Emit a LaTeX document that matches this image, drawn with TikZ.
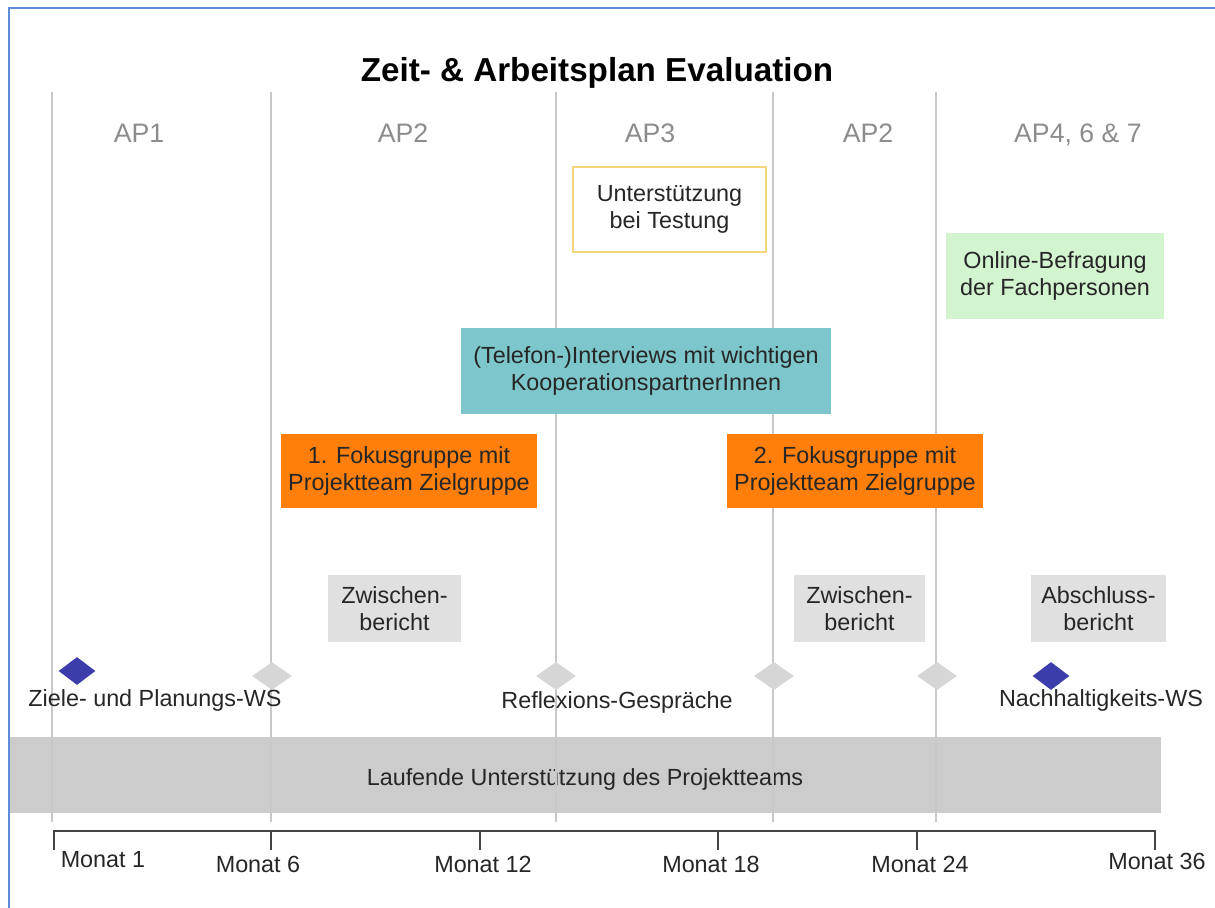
\documentclass[tikz,border=0pt]{standalone}
\usepackage{fontspec}
\setmainfont{Liberation Sans}
\usetikzlibrary{shapes.geometric}

\definecolor{frameblue}{HTML}{5B8DD9}
\definecolor{gridgrey}{HTML}{C8C8C8}
\definecolor{apgrey}{HTML}{8C8C8C}
\definecolor{testgold}{HTML}{F2D57C}
\definecolor{onlinegreen}{HTML}{D2F5D0}
\definecolor{interviewteal}{HTML}{7CC6CC}
\definecolor{fokusorange}{HTML}{FF7F0A}
\definecolor{berichtgrey}{HTML}{E0E0E0}
\definecolor{bargrey}{HTML}{CCCCCC}
\definecolor{wsblue}{HTML}{3C3CAA}
\definecolor{reflgrey}{HTML}{D6D6D6}
\definecolor{axisgrey}{HTML}{444444}

\begin{document}
\begin{tikzpicture}[x=0.02cm,y=-0.02cm]

                \tikzset{txt/.style = {font=\fontsize{13.3}{15.5}\selectfont, text=black!85}}
                \tikzset{box/.style = {txt, align=center, inner sep=0pt}}
                \tikzset{aplabel/.style = {anchor=base, font=\fontsize{15.2}{18}\selectfont, text=apgrey}}
                \tikzset{monat/.style = {txt, anchor=base}}
                \tikzset{ws/.style = {shape=diamond, inner sep=0pt, minimum height=0.56cm}}
                \useasboundingbox (0,0) rectangle (1215,908);
                \draw[frameblue, line width=1.2pt] (9,908) |- (1215,8);

                \node[anchor=base, font=\fontsize{18.9}{22}\selectfont\bfseries] (title) at (597,82) {Zeit- \& Arbeitsplan Evaluation};

                \node[box, fill=bargrey, minimum width=23.02cm, minimum height=1.52cm] (bar) at (585.5,775) {};
                \node[txt, anchor=base] (barText) at (585,786) {Laufende Unterstützung des Projektteams};

                \foreach \x in {52,271,556,773,936}
                    \draw[gridgrey, line width=0.8pt] (\x,92) -- (\x,822);

                \node[aplabel] (ap1) at (139,143) {AP1};
                \node[aplabel] (ap2a) at (403,143) {AP2};
                \node[aplabel] (ap3) at (650,143) {AP3};
                \node[aplabel] (ap2b) at (868,143) {AP2};
                \node[aplabel] (ap4) at (1078,143) {AP4, 6 \& 7};

                \node[box, fill=white, draw=testgold, line width=0.8pt, minimum width=3.86cm, minimum height=1.70cm] (testung) at (669.5,209.5) {Unterstützung\\bei Testung};
                \node[box, fill=onlinegreen, minimum width=4.36cm, minimum height=1.72cm] (online) at (1055,276) {Online-Befragung\\der Fachpersonen};
                \node[box, fill=interviewteal, minimum width=7.40cm, minimum height=1.72cm] (interviews) at (646,371) {(Telefon-)Interviews mit wichtigen\\KooperationspartnerInnen};
                \node[box, fill=fokusorange, minimum width=5.12cm, minimum height=1.50cm] (fokus1) at (409,471) {1. Fokusgruppe mit\\Projektteam Zielgruppe};
                \node[box, fill=fokusorange, minimum width=5.12cm, minimum height=1.50cm] (fokus2) at (855,471) {2. Fokusgruppe mit\\Projektteam Zielgruppe};

                \node[box, fill=berichtgrey, minimum width=2.66cm, minimum height=1.34cm] (zwischen1) at (394.5,608.5) {Zwischen-\\bericht};
                \node[box, fill=berichtgrey, minimum width=2.62cm, minimum height=1.34cm] (zwischen2) at (859.5,608.5) {Zwischen-\\bericht};
                \node[box, fill=berichtgrey, minimum width=2.70cm, minimum height=1.34cm] (abschluss) at (1098.5,608.5) {Abschluss-\\bericht};

                \node[ws, fill=wsblue, minimum width=0.74cm] (wsStart) at (77,671) {};
                \node[ws, fill=reflgrey, minimum width=0.80cm] (refl1) at (272,676) {};
                \node[ws, fill=reflgrey, minimum width=0.80cm] (refl2) at (556,676) {};
                \node[ws, fill=reflgrey, minimum width=0.80cm] (refl3) at (774,676) {};
                \node[ws, fill=reflgrey, minimum width=0.80cm] (refl4) at (937,676) {};
                \node[ws, fill=wsblue, minimum width=0.74cm] (wsEnd) at (1051,676) {};

                \node[txt, anchor=base] (wsStartText) at (155,707) {Ziele- und Planungs-WS};
                \node[txt, anchor=base] (reflText) at (617,709) {Reflexions-Gespräche};
                \node[txt, anchor=base] (wsEndText) at (1101,707) {Nachhaltigkeits-WS};

                \draw[axisgrey, line width=1pt] (54,850) -- (54,831) -- (1155,831) -- (1155,850);
                \foreach \x in {271,480,718,917}
                    \draw[axisgrey, line width=1pt] (\x,831) -- (\x,850);

                \node[monat] (m1) at (103,868) {Monat 1};
                \node[monat] (m6) at (258,873) {Monat 6};
                \node[monat] (m12) at (483,873) {Monat 12};
                \node[monat] (m18) at (711,873) {Monat 18};
                \node[monat] (m24) at (920,873) {Monat 24};
                \node[monat] (m36) at (1157,870) {Monat 36};
            \end{tikzpicture}
\end{document}
